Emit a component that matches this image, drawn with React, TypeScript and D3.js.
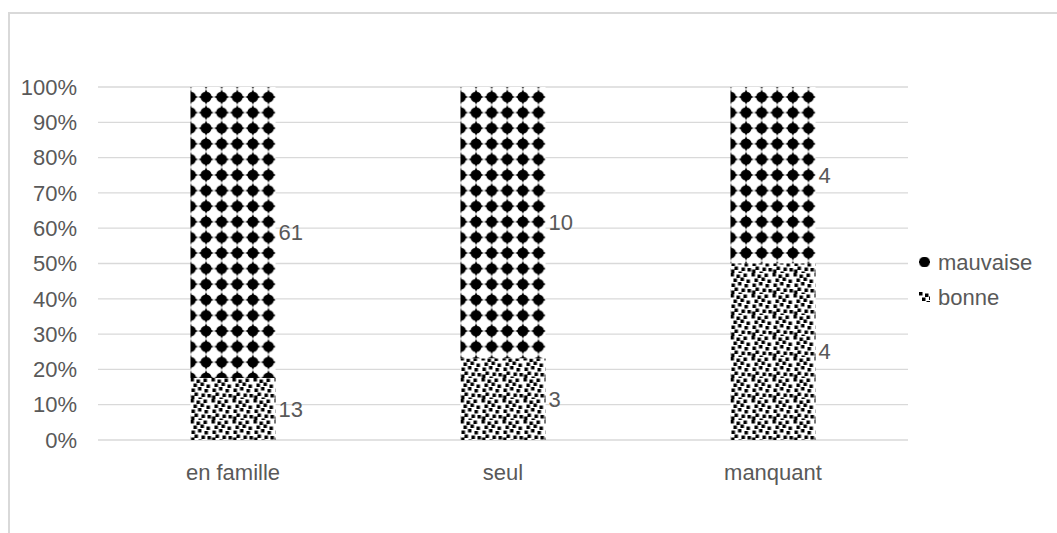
import React from "react";
import * as d3 from "d3";

const categories = ["en famille", "seul", "manquant"];
const bonne = [13, 3, 4];
const mauvaise = [61, 10, 4];
const yTicks = [0, 0.1, 0.2, 0.3, 0.4, 0.5, 0.6, 0.7, 0.8, 0.9, 1];
const seriesNames = ["mauvaise", "bonne"];

const W = 1057;
const H = 533;
const FONT = "'Liberation Sans', Arial, sans-serif";
const TXT = "#595959";
const GRID = "#d9d9d9";

const confettiSquares: [number, number][] = [
  [0, 0], [6, 1.5], [13, 0.5], [3, 5.5], [10, 4.5], [16, 6.5], [1, 10.5], [7.5, 9],
  [14, 11], [4, 14.5], [11, 15.5], [17, 16], [0.5, 17.5], [8, 19.5],
];

export default function App() {
  const x = d3.scaleBand<string>().domain(categories).range([98, 908]).paddingInner(0.685).paddingOuter(0.3425);
  const y = d3.scaleLinear().domain([0, 1]).range([440, 87]);
  const s = 15.6;
  const cs = 21;
  const sq = 3.5;

  const blob = (cx: number, cy: number, k: string) => (
    <g key={k}>
      <circle cx={cx} cy={cy} r={s * 0.35} fill="#000" />
      <path d={`M${cx - s / 2},${cy} L${cx - 2.2},${cy - 2.2} L${cx},${cy - s / 2} L${cx + 2.2},${cy - 2.2} L${cx + s / 2},${cy} L${cx + 2.2},${cy + 2.2} L${cx},${cy + s / 2} L${cx - 2.2},${cy + 2.2} Z`} fill="#000" />
    </g>
  );

  const rows = categories.map((c, i) => {
    const tot = bonne[i] + mauvaise[i];
    const b = bonne[i] / tot;
    return { c, i, b, x0: x(c) as number };
  });

  const confetti = confettiSquares.map(([a, bb], j) => (
    <rect key={j} x={a} y={bb} width={sq} height={sq} fill="#000" />
  ));

  return (
    <svg width={W} height={H} style={{ position: "absolute", left: 0, top: 0, background: "#fff" }} fontFamily={FONT}>
      <defs>
        {rows.map((r) => (
          <pattern key={"m" + r.i} id={"pm" + r.i} patternUnits="userSpaceOnUse" width={s} height={s} x={r.x0 - s / 2} y={97 - s / 2}>
            <rect width={s} height={s} fill="#fff" />
            {blob(s / 2, s / 2, "c")}
          </pattern>
        ))}
        {rows.map((r) => (
          <pattern key={"b" + r.i} id={"pb" + r.i} patternUnits="userSpaceOnUse" width={cs} height={cs} x={r.x0} y={0}>
            <rect width={cs} height={cs} fill="#fff" />
            {confetti}
          </pattern>
        ))}
        <pattern id="legm" patternUnits="userSpaceOnUse" width={s} height={s} x={924.5 - s / 2} y={262 - s / 2}>
          {blob(s / 2, s / 2, "c")}
        </pattern>
        <pattern id="legb" patternUnits="userSpaceOnUse" width={cs} height={cs} x={919} y={292}>
          {confetti}
        </pattern>
      </defs>
      <rect x={9} y={13} width={W + 20} height={H + 20} fill="#fff" stroke={GRID} strokeWidth={2} />
      {yTicks.map((t) => (
        <g key={t}>
          <line x1={98} x2={908} y1={y(t)} y2={y(t)} stroke={GRID} strokeWidth={1.3} />
          <text x={77} y={y(t)} dy="0.35em" textAnchor="end" fontSize={22} fill={TXT}>
            {d3.format(".0%")(t)}
          </text>
        </g>
      ))}
      {rows.map((r) => (
        <g key={r.c}>
          <rect x={r.x0} y={y(1)} width={x.bandwidth()} height={y(r.b) - y(1)} fill={`url(#pm${r.i})`} />
          <rect x={r.x0} y={y(r.b)} width={x.bandwidth()} height={y(0) - y(r.b)} fill={`url(#pb${r.i})`} />
          <text x={r.x0 + x.bandwidth() + 3} y={y(r.b / 2)} dy="0.35em" fontSize={22} fill={TXT}>
            {bonne[r.i]}
          </text>
          <text x={r.x0 + x.bandwidth() + 3} y={y((r.b + 1) / 2)} dy="0.35em" fontSize={22} fill={TXT}>
            {mauvaise[r.i]}
          </text>
          <text x={r.x0 + x.bandwidth() / 2} y={472} dy="0.35em" textAnchor="middle" fontSize={22} fill={TXT}>
            {r.c}
          </text>
        </g>
      ))}
      {seriesNames.map((n, i) => (
        <g key={n}>
          <rect x={919} y={i === 0 ? 257 : 292} width={11} height={10} fill={i === 0 ? "url(#legm)" : "url(#legb)"} />
          <text x={938} y={i === 0 ? 262 : 297} dy="0.35em" fontSize={22} fill={TXT}>
            {n}
          </text>
        </g>
      ))}
    </svg>
  );
}
